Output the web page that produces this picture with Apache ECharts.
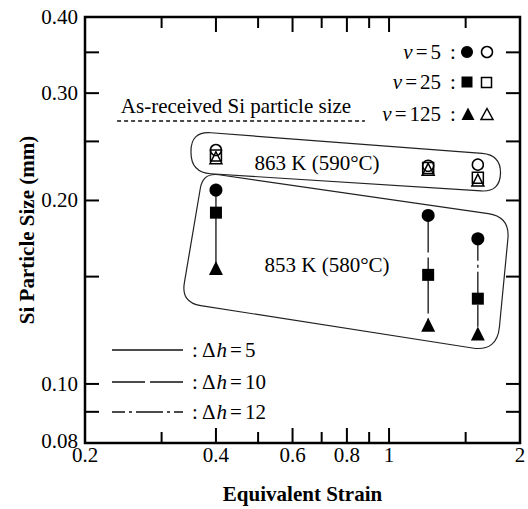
<!DOCTYPE html>
<html><head><meta charset="utf-8">
<script src="https://cdn.jsdelivr.net/npm/echarts@6/dist/echarts.min.js"></script>
<style>html,body{margin:0;padding:0;background:#fff}#c{width:528px;height:509px}</style>
</head><body><div id="c"></div>
<script>
// ---- data ----
const strains = [0.4, 1.23, 1.6];
const deltaH = [5, 10, 12];
const size863_v5 = [0.242, 0.228, 0.229];
const size863_v25 = [0.237, 0.226, 0.218];
const size863_v125 = [0.235, 0.225, 0.216];
const size853_v5 = [0.208, 0.189, 0.173];
const size853_v25 = [0.191, 0.151, 0.138];
const size853_v125 = [0.155, 0.125, 0.121];
const asReceivedSize = 0.27;
const asReceivedSpan = [0.237, 0.88];
const xTickValues = [0.2, 0.3, 0.4, 0.5, 0.6, 0.7, 0.8, 0.9, 1, 1.5, 2];
const xTickLabels = ['0.2', '', '0.4', '', '0.6', '', '0.8', '', '1', '', '2'];
const yTickValues = [0.08, 0.09, 0.10, 0.15, 0.20, 0.25, 0.30, 0.35, 0.40];
const yTickLabels = ['0.08', '', '0.10', '', '0.20', '', '0.30', '', '0.40'];
const box863 = [[0.3505, 0.2598], [1.809, 0.2376], [1.799, 0.2064], [0.3505, 0.2223]];
const box853 = [[0.3735, 0.2223], [1.897, 0.1880], [1.771, 0.1129], [0.3325, 0.1360]];

const FONT = "'Liberation Serif', serif";
const FS = 21;
const X_MIN = 0.2, X_MAX = 2, Y_MIN = 0.08, Y_MAX = 0.40;

function roundedPath(pts, radii) {
  const n = pts.length;
  let d = '';
  for (let i = 0; i < n; i++) {
    const p = pts[i], a = pts[(i - 1 + n) % n], b = pts[(i + 1) % n];
    const r = radii[i];
    const da = Math.hypot(a[0] - p[0], a[1] - p[1]), db = Math.hypot(b[0] - p[0], b[1] - p[1]);
    const p1 = [p[0] + (a[0] - p[0]) * r / da, p[1] + (a[1] - p[1]) * r / da];
    const p2 = [p[0] + (b[0] - p[0]) * r / db, p[1] + (b[1] - p[1]) * r / db];
    d += (i === 0 ? 'M' : 'L') + p1[0].toFixed(2) + ' ' + p1[1].toFixed(2) +
      ' Q' + p[0].toFixed(2) + ' ' + p[1].toFixed(2) + ' ' + p2[0].toFixed(2) + ' ' + p2[1].toFixed(2) + ' ';
  }
  return d + 'Z';
}

function boxSeries(corners, radii) {
  return {
    type: 'custom', silent: true, z: 1,
    data: [[1, 0.2]],
    renderItem: function (params, api) {
      const pts = corners.map(c => api.coord(c));
      return {
        type: 'path',
        shape: { pathData: roundedPath(pts, radii) },
        style: { fill: 'none', stroke: '#222', lineWidth: 1.2 }
      };
    }
  };
}

function axesSeries() {
  return {
    type: 'custom', silent: true, z: 5,
    data: [[1, 0.2]],
    renderItem: function (params, api) {
      const ch = [];
      const yb = api.coord([X_MIN, Y_MIN])[1], yt = api.coord([X_MIN, Y_MAX])[1];
      const xl = api.coord([X_MIN, Y_MIN])[0], xr = api.coord([X_MAX, Y_MIN])[0];
      const ls = { stroke: '#000', lineWidth: 2 };
      xTickValues.forEach((v, i) => {
        const x = api.coord([v, Y_MIN])[0];
        const len = xTickLabels[i] ? 15 : 11;
        if (v > X_MIN && v < X_MAX) {
          ch.push({ type: 'line', shape: { x1: x, y1: yb, x2: x, y2: yb - len }, style: ls });
          ch.push({ type: 'line', shape: { x1: x, y1: yt, x2: x, y2: yt + len }, style: ls });
        }
        if (xTickLabels[i]) {
          ch.push({ type: 'text', x: x, y: yb + 12, style: { text: xTickLabels[i], fontFamily: FONT, fontSize: FS, lineHeight: 14, fill: '#000', align: 'center', verticalAlign: 'middle' } });
        }
      });
      yTickValues.forEach((v, i) => {
        const y = api.coord([X_MIN, v])[1];
        const len = 14;
        if (v > Y_MIN && v < Y_MAX) {
          ch.push({ type: 'line', shape: { x1: xl, y1: y, x2: xl + len, y2: y }, style: ls });
          ch.push({ type: 'line', shape: { x1: xr, y1: y, x2: xr - len, y2: y }, style: ls });
        }
        if (yTickLabels[i]) {
          ch.push({ type: 'text', x: xl - 7, y: v === Y_MIN ? y - 2 : y, style: { text: yTickLabels[i], fontFamily: FONT, fontSize: FS, lineHeight: 14, fill: '#000', align: 'right', verticalAlign: 'middle' } });
        }
      });
      return { type: 'group', children: ch };
    }
  };
}

const dashFor = { 5: 'solid', 10: [56, 5], 12: [22, 4, 3, 4] };
const dashOffsetFor = { 5: 0, 10: 19, 12: 0 };

const series = [];
series.push(boxSeries(box863, [20, 19, 19, 20]));
series.push(boxSeries(box853, [16, 22, 25, 20]));
strains.forEach((x, i) => {
  series.push({
    type: 'line', z: 2, silent: true, symbol: 'none',
    data: [[x, size853_v5[i]], [x, size853_v125[i]]],
    lineStyle: { color: '#111', width: 1.3, type: dashFor[deltaH[i]], dashOffset: dashOffsetFor[deltaH[i]] }
  });
});
series.push({
  type: 'line', z: 2, silent: true, symbol: 'none',
  data: [[asReceivedSpan[0], asReceivedSize], [asReceivedSpan[1], asReceivedSize]],
  lineStyle: { color: '#111', width: 1.5, type: [4, 3] }
});
const filled = { color: '#000', opacity: 1 };
const open = { color: 'rgba(255,255,255,0)', borderColor: '#000', borderWidth: 1.5, opacity: 1 };
function pts(arr) { return strains.map((x, i) => [x, arr[i]]); }
series.push({ type: 'scatter', z: 3, symbol: 'circle', symbolSize: 13, itemStyle: filled, data: pts(size853_v5) });
series.push({ type: 'scatter', z: 3, symbol: 'rect', symbolSize: 12, itemStyle: filled, data: pts(size853_v25) });
series.push({ type: 'scatter', z: 3, symbol: 'triangle', symbolSize: 14, itemStyle: filled, data: pts(size853_v125) });
series.push({ type: 'scatter', z: 3, symbol: 'circle', symbolSize: 11, itemStyle: open, data: pts(size863_v5) });
series.push({ type: 'scatter', z: 3, symbol: 'rect', symbolSize: 11, itemStyle: open, data: pts(size863_v25) });
series.push({ type: 'scatter', z: 3, symbol: 'triangle', symbolSize: 12, itemStyle: open, data: pts(size863_v125) });
series.push(axesSeries());

function txt(x, y, text, extra) {
  return Object.assign({ type: 'text', x: x, y: y, z: 10,
    style: Object.assign({ text: text, fontFamily: FONT, fontSize: FS, fill: '#000', align: 'center', verticalAlign: 'middle',
      rich: { i: { fontFamily: FONT, fontSize: FS, fontStyle: 'italic' }, e: { fontFamily: FONT, fontSize: FS, padding: [0, 3] }, n: { fontFamily: FONT, fontSize: FS } } }, extra || {}) });
}

const graphic = [
  txt(236, 106, 'As-received Si particle size'),
  txt(317, 163, '863 K (590°C)'),
  txt(327, 265, '853 K (580°C)'),
  // top-right legend
  txt(441, 52, '{i|v}{e|=}{n|5}', { align: 'right' }),
  txt(441, 82, '{i|v}{e|=}{n|25}', { align: 'right' }),
  txt(441, 114, '{i|v}{e|=}{n|125}', { align: 'right' }),
  txt(453, 52, ':'), txt(453, 82, ':'), txt(453, 114, ':'),
  { type: 'circle', shape: { cx: 467, cy: 52, r: 6 }, style: { fill: '#000' } },
  { type: 'circle', shape: { cx: 487, cy: 52, r: 5.5 }, style: { fill: 'none', stroke: '#000', lineWidth: 1.5 } },
  { type: 'rect', shape: { x: 461.5, y: 76.5, width: 11, height: 11 }, style: { fill: '#000' } },
  { type: 'rect', shape: { x: 481.5, y: 77.5, width: 10, height: 10 }, style: { fill: 'none', stroke: '#000', lineWidth: 1.5 } },
  { type: 'polygon', shape: { points: [[468, 107.5], [474.5, 120], [461.5, 120]] }, style: { fill: '#000' } },
  { type: 'polygon', shape: { points: [[487, 108.5], [493, 119.5], [481, 119.5]] }, style: { fill: 'none', stroke: '#000', lineWidth: 1.5 } },
  // bottom-left legend
  { type: 'line', shape: { x1: 112, y1: 350, x2: 183, y2: 350 }, style: { stroke: '#111', lineWidth: 1.3 } },
  { type: 'line', shape: { x1: 112, y1: 382, x2: 183, y2: 382 }, style: { stroke: '#111', lineWidth: 1.3, lineDash: [33, 5] } },
  { type: 'line', shape: { x1: 112, y1: 412, x2: 183, y2: 412 }, style: { stroke: '#111', lineWidth: 1.3, lineDash: [27, 4, 3, 4], lineDashOffset: 14 } },
  txt(192, 350, '{n|: Δ}{i|h}{e|=}{n|5}', { align: 'left' }),
  txt(192, 382, '{n|: Δ}{i|h}{e|=}{n|10}', { align: 'left' }),
  txt(192, 412, '{n|: Δ}{i|h}{e|=}{n|12}', { align: 'left' })
];

const chart = echarts.init(document.getElementById('c'), null, { renderer: 'svg' });
chart.setOption({
  animation: false,
  backgroundColor: '#fff',
  grid: { left: 85, right: 8, top: 17, bottom: 59, show: true, borderColor: '#000', borderWidth: 2.5, backgroundColor: 'transparent' },
  xAxis: {
    type: 'log', logBase: 10, min: X_MIN, max: X_MAX,
    name: 'Equivalent Strain', nameLocation: 'middle', nameGap: 40,
    nameTextStyle: { fontFamily: FONT, fontSize: FS, fontWeight: 'bold', color: '#000' },
    axisLine: { show: false }, axisTick: { show: false }, axisLabel: { show: false }, splitLine: { show: false }
  },
  yAxis: {
    type: 'log', logBase: 10, min: Y_MIN, max: Y_MAX,
    name: 'Si Particle Size (mm)', nameLocation: 'middle', nameGap: 48,
    nameTextStyle: { fontFamily: FONT, fontSize: FS, fontWeight: 'bold', color: '#000' },
    axisLine: { show: false }, axisTick: { show: false }, axisLabel: { show: false }, splitLine: { show: false }
  },
  series: series,
  graphic: graphic
});
</script></body></html>
